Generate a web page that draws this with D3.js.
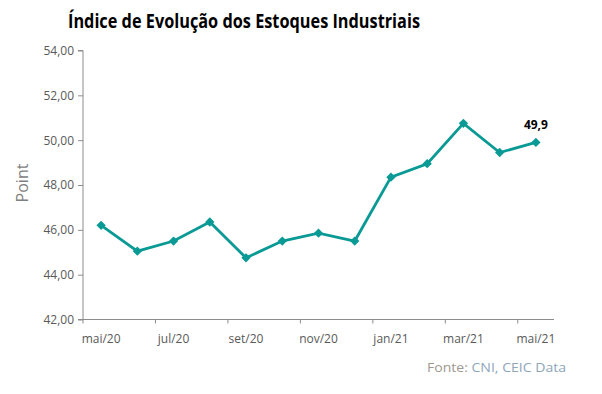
<!DOCTYPE html>
<html><head><meta charset="utf-8">
<script src="https://cdn.jsdelivr.net/npm/d3@7"></script>
<style>body{margin:0;background:#fff}svg{display:block}</style>
</head><body><svg id="c" width="602" height="394"></svg>
<script>
const months = ["mai/20","jun/20","jul/20","ago/20","set/20","out/20","nov/20","dez/20","jan/21","fev/21","mar/21","abr/21","mai/21"];
const values = [46.2,45.05,45.5,46.35,44.75,45.5,45.85,45.5,48.35,48.95,50.75,49.45,49.9];
const yTicks = [42,44,46,48,50,52,54];
const xLabels = ["mai/20","jul/20","set/20","nov/20","jan/21","mar/21","mai/21"];
const title = "Índice de Evolução dos Estoques Industriais";
const lastLabel = "49,9";

(function(){
const svg = d3.select("#c");
const mLeft = 83, mRight = 554, mTop = 50.5, mBottom = 319.5;
const x = d3.scaleBand().domain(months).range([mLeft, mRight]);
const y = d3.scaleLinear().domain([42,54]).range([mBottom, mTop]);
const font = "'Open Sans', 'DejaVu Sans', sans-serif";
const gray = "#595959";
const axisCol = "#8c8c8c";

svg.append("text").attr("x", 68).attr("y", 28).text(title)
  .attr("font-family", font).attr("font-weight", "bold").attr("font-size", 20)
  .attr("fill", "#000").attr("textLength", 352).attr("lengthAdjust", "spacingAndGlyphs");

// y axis
const ya = svg.append("g").attr("transform", `translate(${mLeft},0)`)
  .call(d3.axisLeft(y).tickValues(yTicks).tickSize(5).tickPadding(4)
    .tickFormat(d => d3.format(".2f")(d).replace(".", ",")));
ya.select(".domain").attr("stroke", axisCol).attr("d", `M-5,${mTop}H0V${mBottom}H-5`);
ya.selectAll(".tick line").attr("stroke", axisCol);
ya.selectAll(".tick text").attr("font-family", font).attr("font-size", 12).attr("fill", gray);

// x axis
const xa = svg.append("g").attr("transform", `translate(0,${mBottom})`);
xa.append("line").attr("x1", mLeft).attr("x2", mRight).attr("stroke", axisCol);
const tickMonths = months.filter((d,i) => i % 2 === 0);
xa.selectAll("line.t").data(tickMonths).join("line").attr("class","t")
  .attr("x1", d => x(d)).attr("x2", d => x(d)).attr("y1", 0).attr("y2", 4).attr("stroke", axisCol);
xa.selectAll("text").data(xLabels).join("text")
  .attr("x", d => x(d) + x.bandwidth()/2).attr("y", 23).attr("text-anchor", "middle")
  .attr("font-family", font).attr("font-size", 12).attr("fill", gray).text(d => d);

// y title
svg.append("text").attr("transform", "translate(28,183) rotate(-90)").attr("text-anchor", "middle")
  .attr("font-family", font).attr("font-size", 16).attr("fill", "#7f7f7f").text("Point");

// line
const teal = "#0a9a96";
const pts = months.map((m,i) => [x(m) + x.bandwidth()/2, y(values[i])]);
svg.append("path").attr("d", d3.line()(pts)).attr("fill", "none").attr("stroke", teal).attr("stroke-width", 2.8);
svg.selectAll("path.m").data(pts).join("path").attr("class","m")
  .attr("d", d3.symbol(d3.symbolDiamond2, 55)())
  .attr("transform", d => `translate(${d[0]},${d[1]})`).attr("fill", teal);

const lp = pts[pts.length-1];
svg.append("text").attr("x", lp[0]).attr("y", lp[1]-13).attr("text-anchor", "middle")
  .attr("font-family", font).attr("font-weight", "bold").attr("font-size", 12).attr("fill", "#000").text(lastLabel);

// source
const src = svg.append("text").attr("x", 427).attr("y", 372).attr("font-family", font).attr("font-size", 13.5)
  .attr("textLength", 139).attr("lengthAdjust", "spacingAndGlyphs");
src.append("tspan").attr("fill", "#a09890").text("Fonte: ");
src.append("tspan").attr("fill", "#8ea6ba").text("CNI, CEIC Data");
})();
</script></body></html>
